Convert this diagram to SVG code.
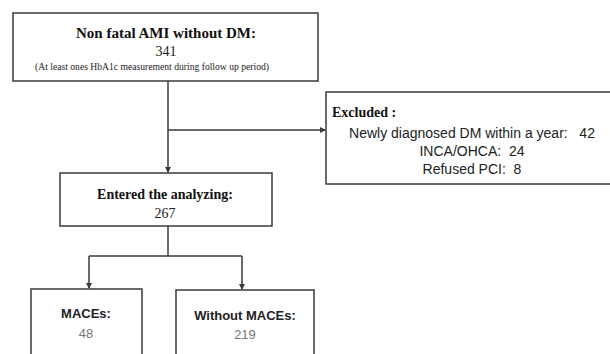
<svg xmlns="http://www.w3.org/2000/svg" width="610" height="354" viewBox="0 0 610 354">
<style>
.box{fill:#fff;stroke:#3a3a3a;stroke-width:1.5}
.ln{fill:none;stroke:#3a3a3a;stroke-width:1.5}
.sb{font-family:"Liberation Serif",serif;font-weight:bold;fill:#111}
.sr{font-family:"Liberation Serif",serif;fill:#222}
.ss{font-family:"Liberation Sans",Arial,sans-serif;fill:#222}
.gray{fill:#777}
</style>
<defs>
<marker id="ah" markerWidth="6" markerHeight="6" refX="5" refY="3" orient="auto" markerUnits="userSpaceOnUse">
<path d="M0,0 L6,3 L0,6 Z" fill="#3a3a3a"/>
</marker>
</defs>
<g id="connectors">
<path class="ln" d="M168,81 V172" marker-end="url(#ah)"/>
<path class="ln" d="M168,130 H325" marker-end="url(#ah)"/>
<path class="ln" d="M168,226 V256"/>
<path class="ln" d="M89,256 H242"/>
<path class="ln" d="M89,256 V288" marker-end="url(#ah)"/>
<path class="ln" d="M242,256 V289" marker-end="url(#ah)"/>
</g>
<g id="n1">
<rect class="box" x="13" y="13" width="305" height="68"/>
<text class="sb" x="166" y="38" font-size="15" text-anchor="middle">Non fatal AMI without DM:</text>
<text class="sr" x="166" y="56" font-size="14" text-anchor="middle">341</text>
<text class="sr" x="152" y="70" font-size="9.5" text-anchor="middle" textLength="234" lengthAdjust="spacingAndGlyphs">(At least ones HbA1c measurement  during follow up period)</text>
</g>
<g id="excluded">
<rect class="box" x="326" y="92" width="300" height="92"/>
<text class="sb" x="332" y="117" font-size="14">Excluded :</text>
<text class="ss" x="472" y="138" font-size="14" text-anchor="middle" xml:space="preserve">Newly diagnosed DM within a year:   42</text>
<text class="ss" x="472" y="156" font-size="14" text-anchor="middle" xml:space="preserve">INCA/OHCA:  24</text>
<text class="ss" x="472" y="174" font-size="14" text-anchor="middle" xml:space="preserve">Refused PCI:  8</text>
</g>
<g id="entered">
<rect class="box" x="60" y="173" width="212" height="53"/>
<text class="sb" x="165" y="199" font-size="14" text-anchor="middle">Entered the analyzing:</text>
<text class="sr" x="165" y="218" font-size="14" text-anchor="middle">267</text>
</g>
<g id="maces">
<rect class="box" x="31" y="289" width="111" height="80"/>
<text class="ss" x="86" y="318" font-size="13" font-weight="bold" text-anchor="middle">MACEs:</text>
<text class="ss gray" x="86" y="338" font-size="13" text-anchor="middle">48</text>
</g>
<g id="without">
<rect class="box" x="176" y="290" width="138" height="80"/>
<text class="ss" x="245" y="320" font-size="13" font-weight="bold" text-anchor="middle">Without MACEs:</text>
<text class="ss gray" x="245" y="339" font-size="13" text-anchor="middle">219</text>
</g>
</svg>
